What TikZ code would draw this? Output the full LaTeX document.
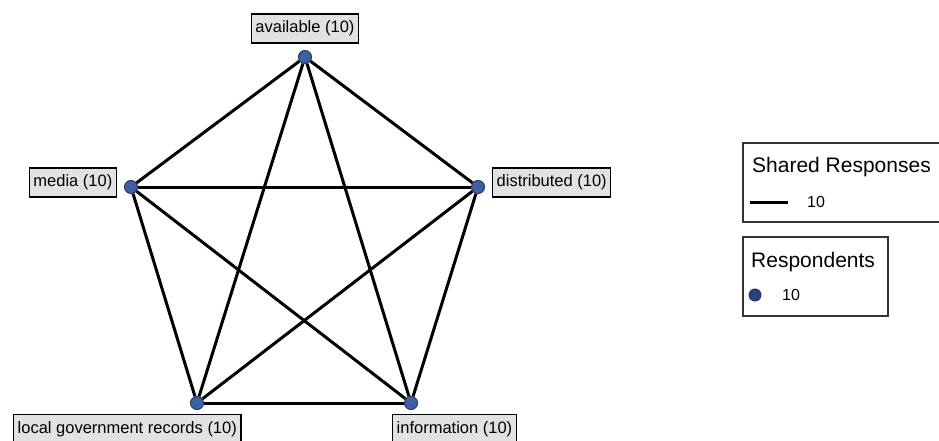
\documentclass[tikz,border=0pt]{standalone}
\usepackage{fontspec}
\setmainfont{Liberation Sans}
\definecolor{dotblue}{RGB}{62,96,165}
\definecolor{dotedge}{RGB}{38,58,110}
\definecolor{lblgray}{RGB}{226,226,226}
\begin{document}
\begin{tikzpicture}[x=1pt,y=-1pt,
    dot/.style={shape=circle,draw=dotedge,fill=dotblue,line width=1pt,minimum size=13pt,inner sep=0pt},
    lbl/.style={shape=rectangle,draw=black,fill=lblgray,line width=1.4pt,inner xsep=4pt,minimum height=29pt,font=\fontsize{16.5}{18}\selectfont},
    link/.style={line width=3pt,black},
    legendbox/.style={draw=black!80,line width=1.6pt},
    legtitle/.style={font=\fontsize{21}{24}\selectfont,inner sep=0pt},
    legitem/.style={font=\fontsize{16}{18}\selectfont,inner sep=0pt}]
                \useasboundingbox (0,0) rectangle (939,441);
                \fill[white] (0,0) rectangle (939,441);

                \node[dot] (avail) at (305,57) {};
                \node[dot] (media) at (131,187) {};
                \node[dot] (distr) at (478,187) {};
                \node[dot] (local) at (197,403) {};
                \node[dot] (info) at (411,403) {};

                \draw[link] (avail) -- (media);
                \draw[link] (avail) -- (distr);
                \draw[link] (avail) -- (local);
                \draw[link] (avail) -- (info);

                \draw[link] (media) -- (distr);
                \draw[link] (media) -- (local);
                \draw[link] (media) -- (info);

                \draw[link] (distr) -- (local);
                \draw[link] (distr) -- (info);

                \draw[link] (local) -- (info);

                \node[lbl] (availlbl) at (305,28.5) {available (10)};
                \node[lbl,anchor=east] (medialbl) at (117,182.5) {media (10)};
                \node[lbl,anchor=west] (distrlbl) at (492,182.5) {distributed (10)};
                \node[lbl,anchor=north west] (locallbl) at (13,414) {local government records (10)};
                \node[lbl,anchor=north west] (infolbl) at (392,414) {information (10)};

                % legend
                \draw[legendbox] (743,143) rectangle (960,222);
                \node[legtitle,anchor=base west] (sharedtitle) at (752,172) {Shared Responses};
                \coordinate (sampleL) at (750,202);
                \coordinate (sampleR) at (788,202);
                \draw[link] (sampleL) -- (sampleR);
                \node[legitem,anchor=west] (sharedval) at (807,202) {10};

                \draw[legendbox] (743,237) rectangle (888,316);
                \node[legtitle,anchor=base west] (resptitle) at (751,267) {Respondents};
                \node[dot,draw=dotedge,fill=dotedge!85!dotblue,minimum size=12pt] (respdot) at (755,295) {};
                \node[legitem,anchor=west] (respval) at (782,295) {10};

            \end{tikzpicture}
\end{document}
